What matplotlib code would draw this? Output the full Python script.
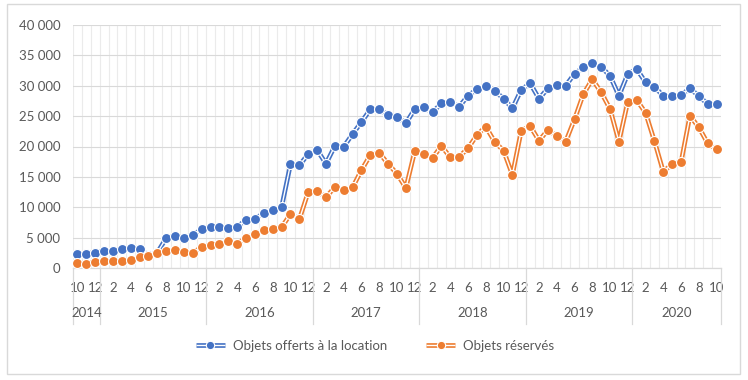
import matplotlib
matplotlib.use("Agg")
import matplotlib.pyplot as plt
from matplotlib.lines import Line2D
from matplotlib.patches import Rectangle
from matplotlib.legend_handler import HandlerTuple
import pandas as pd

plt.rcParams['font.family'] = ['Lato', 'DejaVu Sans']

# ---- data ----
periods = pd.period_range('2014-10', '2020-10', freq='M')
years = [2014, 2015, 2016, 2017, 2018, 2019, 2020]
y_ticks = [0, 5000, 10000, 15000, 20000, 25000, 30000, 35000, 40000]

offered = [2250, 2380, 2550, 2800, 2830, 3080, 3370, 3180, 2100, 2550,
           4920, 5270, 5020, 5430, 6370, 6750, 6750, 6580, 6750, 7950,
           8070, 9050, 9550, 10040, 17070, 16900, 18760, 19420, 17170, 20080,
           19970, 22060, 24040, 26120, 26170, 25140, 24910, 23820, 26170, 26450,
           25630, 27110, 27270, 26560, 28360, 29410, 30010, 29180, 27880, 26290,
           29350, 30400, 27870, 29570, 30110, 30000, 31980, 33030, 33690, 33140,
           31600, 28360, 31930, 32760, 30570, 29840, 28310, 28310, 28470, 29570,
           28310, 26990, 26990]

booked = [850, 740, 1040, 1070, 1070, 1200, 1350, 1760, 2030, 2450,
          2800, 2940, 2630, 2420, 3510, 3790, 3900, 4390, 3950, 4990,
          5550, 6250, 6470, 6700, 8890, 8020, 12510, 12670, 11640, 13330,
          12840, 13280, 16130, 18600, 18980, 17120, 15520, 13170, 19210, 18710,
          18110, 20090, 18220, 18320, 19700, 21890, 23260, 20790, 19310, 15340,
          22600, 23370, 20950, 22720, 21730, 20790, 24480, 28640, 31060, 28920,
          26170, 20790, 27370, 27650, 25560, 20900, 15850, 17120, 17400, 25070,
          23160, 20530, 19540]

series_names = ["Objets offerts à la location", "Objets réservés"]
colors = ["#4472C4", "#ED7D31"]
text_color = "#595959"
grid_color = "#D9D9D9"
fs = 9.5

W, H = 748, 380
fig = plt.figure(figsize=(W / 100, H / 100), dpi=100)
fig.patches.append(Rectangle((0.010, 0.016), 0.979, 0.974, transform=fig.transFigure,
                             fill=False, edgecolor="#D9D9D9", linewidth=1.0))

x0, x1, yb, yt = 73, 721, 268, 25
ax = fig.add_axes([x0 / W, 1 - yb / H, (x1 - x0) / W, (yb - yt) / H])

n = len(periods)
xs = list(range(n))

for vals, col, z in zip([offered, booked], colors, [3, 5]):
    ax.plot(xs, vals, color=col, lw=3.4, solid_capstyle='butt', zorder=z)
    ax.plot(xs, vals, color='white', lw=1.0, solid_capstyle='butt', zorder=z + 0.1)
    ax.plot(xs, vals, linestyle='none', marker='o', markersize=7.2,
            markerfacecolor=col, markeredgecolor='white', markeredgewidth=0.8, zorder=z + 0.2)

ax.set_xlim(-0.5, n - 0.5)
ax.set_ylim(0, 40000)
ax.set_yticks(y_ticks)
ax.set_yticklabels([f"{v:,}".replace(",", " ") for v in y_ticks])

# month labels every 2 months
tick_pos = [i for i in xs if i % 2 == 0]
ax.set_xticks(tick_pos)
ax.set_xticklabels([str(periods[i].month) for i in tick_pos])
ax.tick_params(axis='both', length=0, colors=text_color, labelsize=fs)
ax.tick_params(axis='x', pad=10)
ax.tick_params(axis='y', pad=9)

# grid
ax.set_xticks([i - 0.5 for i in range(n + 1)], minor=True)
ax.tick_params(axis='x', which='minor', length=0)
ax.grid(axis='y', which='major', color=grid_color, lw=0.8, zorder=0)
ax.grid(axis='x', which='minor', color="#EBEBEB", lw=0.8, zorder=0)
ax.set_axisbelow(True)
for s in ['top', 'right', 'left']:
    ax.spines[s].set_visible(False)
ax.spines['bottom'].set_color(grid_color)
ax.spines['bottom'].set_linewidth(0.9)

# year labels and separators
trans = ax.get_xaxis_transform()
sep_bottom = -(324 - yb) / (yb - yt)
year_y = -(313 - yb) / (yb - yt)
bounds = [-0.5]
for yr in years:
    idx = [i for i, p in enumerate(periods) if p.year == yr]
    lo, hi = idx[0] - 0.5, idx[-1] + 0.5
    bounds.append(hi)
    ax.text((lo + hi) / 2, year_y, str(yr), transform=trans, ha='center', va='center',
            color=text_color, fontsize=fs)
for b in bounds:
    ax.add_line(Line2D([b, b], [0, sep_bottom], transform=trans, color=grid_color,
                       lw=0.9, clip_on=False))

# legend
handles = []
for col in colors:
    h1 = Line2D([], [], color=col, lw=3.4, solid_capstyle='butt')
    h2 = Line2D([], [], color='white', lw=1.0, solid_capstyle='butt')
    h3 = Line2D([], [], linestyle='none', marker='o', markersize=6,
                markerfacecolor=col, markeredgecolor='white', markeredgewidth=0.8)
    handles.append((h1, h2, h3))
fig.legend(handles, series_names, handler_map={tuple: HandlerTuple(ndivide=1, pad=0)},
           loc='center', bbox_to_anchor=(375 / W, 1 - 346 / H), ncol=2, frameon=False,
           fontsize=fs, labelcolor=text_color, handlelength=2.2, columnspacing=3.0,
           handletextpad=0.6)

fig.savefig("out.png", dpi=100)
